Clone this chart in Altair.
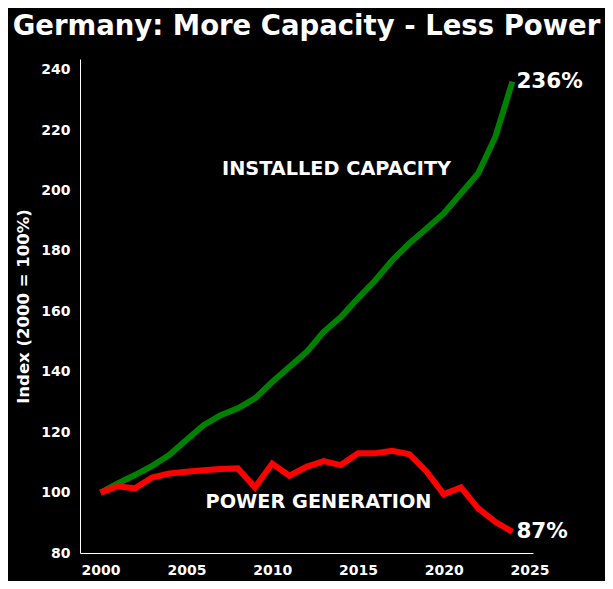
import altair as alt
import pandas as pd

years = list(range(2000, 2025))
capacity = [100, 103, 105.8, 108.8, 112.4, 117.4, 122.3, 125.6, 127.9, 131.2,
            136.6, 141.6, 146.5, 153.2, 158.1, 164.3, 170.2, 176.9, 182.5, 187.4,
            192.4, 199.0, 205.6, 217.6, 236.0]
generation = [100, 102.1, 101.4, 105.0, 106.3, 106.9, 107.4, 107.8, 108.0, 101.7,
              109.6, 105.6, 108.5, 110.4, 109.1, 113.0, 113.0, 113.8, 112.7, 106.9,
              99.4, 101.7, 94.8, 90.3, 87.0]
series_names = ["Installed Capacity", "Power Generation"]
series_colors = ["green", "red"]
end_labels = ["236%", "87%"]
inline_labels = ["INSTALLED CAPACITY", "POWER GENERATION"]
inline_x = [2013.75, 2012.7]
inline_y = [207.2, 97]

rows = []
for y, c, g in zip(years, capacity, generation):
    rows.append({"year": y, "value": c, "series": series_names[0]})
    rows.append({"year": y, "value": g, "series": series_names[1]})
df = pd.DataFrame(rows)

end_df = pd.DataFrame({
    "year": [years[-1], years[-1]],
    "value": [capacity[-1], generation[-1]],
    "label": end_labels,
})
inline_df = pd.DataFrame({"year": inline_x, "value": inline_y, "label": inline_labels})

FONT = "DejaVu Sans"

x_scale = alt.Scale(domain=[1998.8, 2025.2], nice=False, zero=False)
y_scale = alt.Scale(domain=[80, 243.5], nice=False, zero=False)

x_enc = alt.X("year:Q", scale=x_scale,
              axis=alt.Axis(values=[2000, 2005, 2010, 2015, 2020, 2025], format="d",
                            title=None, grid=False, ticks=False, tickSize=0,
                            labelPadding=10, labelFontSize=14, labelFontWeight="bold",
                            labelColor="white", domainColor="white", labelFont=FONT,
                            labelFlush=False))
y_enc = alt.Y("value:Q", scale=y_scale,
              axis=alt.Axis(values=[80, 100, 120, 140, 160, 180, 200, 220, 240],
                            title="Index (2000 = 100%)", grid=False, ticks=False, tickSize=0,
                            labelPadding=10, labelFontSize=14, labelFontWeight="bold",
                            labelColor="white", domainColor="white", labelFont=FONT,
                            titleFont=FONT, titleFontSize=16.5, titleFontWeight="bold",
                            titleColor="white", titlePadding=9, labelFlush=False))

lines = alt.Chart(df).mark_line(strokeWidth=6, strokeCap="butt", strokeJoin="miter").encode(
    x=x_enc, y=y_enc,
    color=alt.Color("series:N", scale=alt.Scale(domain=series_names, range=series_colors),
                    legend=None),
)

ends = alt.Chart(end_df).mark_text(align="left", baseline="middle", dx=4, font=FONT,
                                   fontSize=21.5, fontWeight="bold", color="white").encode(
    x=alt.X("year:Q", scale=x_scale), y=alt.Y("value:Q", scale=y_scale), text="label:N")

inline = alt.Chart(inline_df).mark_text(align="center", baseline="middle", font=FONT,
                                        fontSize=19.3, fontWeight="bold", color="white").encode(
    x=alt.X("year:Q", scale=x_scale), y=alt.Y("value:Q", scale=y_scale), text="label:N")

chart = alt.layer(lines, inline, ends).properties(
    width=453, height=494,
    title=alt.TitleParams("Germany: More Capacity - Less Power", font=FONT, fontSize=27.5,
                          fontWeight="bold", color="white", anchor="middle", offset=19),
    background="black",
    autosize=alt.AutoSizeParams(type="none"),
    padding={"left": 72, "top": 51, "right": 72, "bottom": 28},
).configure_view(strokeWidth=0)

chart.save("out.html", embed_options={"renderer": "svg", "actions": False})
